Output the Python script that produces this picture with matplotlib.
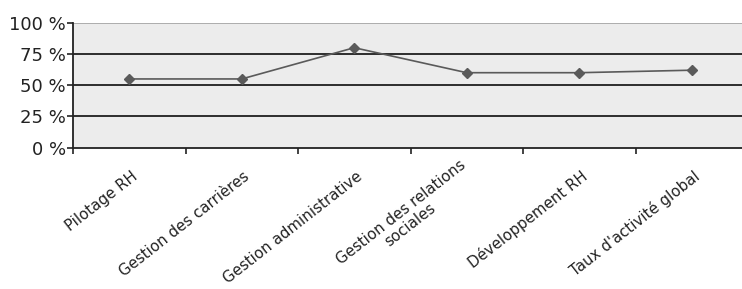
import matplotlib
matplotlib.use("Agg")
import matplotlib.pyplot as plt
from matplotlib.ticker import FixedLocator
import matplotlib.transforms as mtransforms

categories = ["Pilotage RH", "Gestion des carrières", "Gestion administrative",
              "Gestion des relations\nsociales", "Développement RH", "Taux d'activité global"]
values = [55, 55, 80, 60, 60, 62]
yticks = [0, 25, 50, 75, 100]
ytick_labels = ["0 %", "25 %", "50 %", "75 %", "100 %"]

plt.rcParams['font.family'] = ['DejaVu Sans']

W, H = 742, 289
fig = plt.figure(figsize=(W / 100, H / 100), dpi=100)
left, right, top, bottom = 73, 748, 22.7, 147.7
ax = fig.add_axes([left / W, 1 - bottom / H, (right - left) / W, (bottom - top) / H])
ax.set_facecolor('#ececec')

n = len(categories)
x = list(range(n))
ax.set_xlim(-0.5, n - 0.5)
ax.set_ylim(0, 100)

for y in [25, 50, 75]:
    ax.axhline(y, color='#1e1e1e', lw=1.3, zorder=1)
ax.axhline(100, color='#a8a8a8', lw=1.3, zorder=1)

ax.plot(x, values, color='#5a5a5a', lw=1.2, marker='D', markersize=5.5,
        markerfacecolor='#5a5a5a', markeredgecolor='#5a5a5a', zorder=3)

for s in ['top', 'right']:
    ax.spines[s].set_visible(False)
ax.spines['left'].set_color('#222222')
ax.spines['bottom'].set_color('#222222')
ax.spines['left'].set_linewidth(1.3)
ax.spines['bottom'].set_linewidth(1.3)

ax.set_yticks(yticks)
ax.set_yticklabels(ytick_labels, fontsize=13, color='#222222')
ax.tick_params(axis='y', length=4, width=1.2, color='#222222', pad=1)

ax.xaxis.set_major_locator(FixedLocator([i - 0.5 for i in range(n + 1)]))
ax.set_xticklabels([])
ax.tick_params(axis='x', length=4, width=1.2, color='#222222')

trans = mtransforms.blended_transform_factory(ax.transData, ax.transAxes)
for i, lab in enumerate(categories):
    off = mtransforms.ScaledTranslation(9 / 100, -31 / 100, fig.dpi_scale_trans)
    ax.text(i, 0, lab, transform=trans + off, rotation=38, rotation_mode='anchor',
            ha='right', va='baseline', multialignment='center', fontsize=10.8, color='#222222',
            linespacing=1.05)

fig.savefig('out.png', dpi=100)
